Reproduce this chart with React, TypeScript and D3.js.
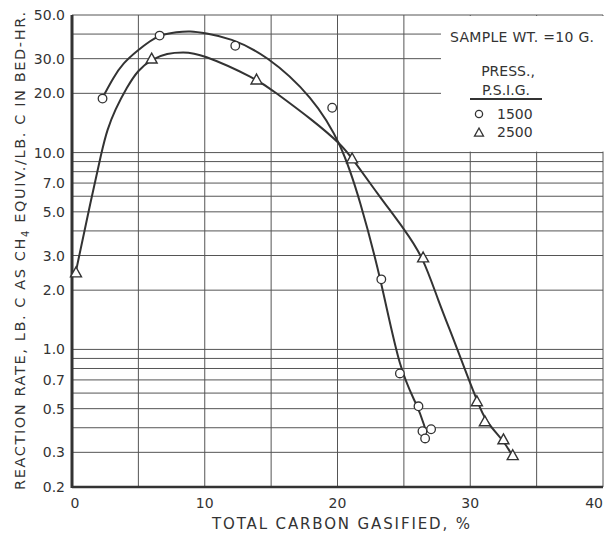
import * as d3 from 'd3';
import React from 'react';

// values
const xGridValues = [0, 5, 10, 15, 20, 25, 30, 35, 40];
const xTickLabels = [0, 10, 20, 30, 40];
const yGridValues = [50, 40, 30, 20, 10, 9, 8, 7, 6, 5, 4, 3, 2, 1, 0.9, 0.8, 0.7, 0.6, 0.5, 0.4, 0.3, 0.2];
const yTickLabels = [50, 30, 20, 10, 7, 5, 3, 2, 1, 0.7, 0.5, 0.3, 0.2];

// measured points, 1500 psig (circles)
const pts1500: [number, number][] = [
  [2.3, 18.8], [6.6, 39.3], [12.3, 34.9], [19.6, 16.9], [23.3, 2.27],
  [24.7, 0.755], [26.1, 0.514], [26.4, 0.384], [27.05, 0.393], [26.6, 0.353],
];
// measured points, 2500 psig (triangles)
const pts2500: [number, number][] = [
  [0.3, 2.46], [6.0, 30.0], [13.9, 23.5], [21.1, 9.33], [26.45, 2.93],
  [30.5, 0.545], [31.1, 0.431], [32.5, 0.349], [33.2, 0.29],
];

// hand-drawn smooth curves
const curve1500: [number, number][] = [
  [2.41, 19.6], [3.09, 23.9], [3.84, 28.5], [4.97, 33.2], [5.88, 36.9], [6.63, 39.6],
  [7.91, 41.0], [8.89, 41.5], [10.02, 40.5], [11.9, 38.2], [14.6, 31.5],
  [18.15, 19.2], [20.34, 10.9], [21.69, 5.74], [23.28, 2.28], [24.71, 0.759],
  [26.06, 0.516], [26.59, 0.399],
];
const curve2500: [number, number][] = [
  [0.3, 2.5], [1.43, 5.74], [2.26, 10.3], [2.64, 13.0], [3.24, 16.5], [4.14, 21.5],
  [4.97, 26.3], [6.03, 29.9], [7.16, 32.0], [8.36, 32.4], [9.64, 32.0], [13.94, 23.6],
  [15.07, 20.8], [18.15, 14.6], [20.34, 10.9], [21.09, 9.38], [23.2, 5.94],
  [25.08, 4.04], [26.44, 2.95], [27.57, 1.78], [28.85, 1.08], [29.98, 0.675],
  [30.51, 0.553], [31.11, 0.433], [32.47, 0.347], [33.14, 0.291],
];

const width = 604;
const height = 534;
const ink = '#333';
const font = "'DejaVu Sans', sans-serif";

export default function App() {
  const x = d3.scaleLinear().domain([0, 40]).range([72, 603]);
  const y = d3.scaleLog().domain([0.2, 50]).range([487, 15]);

  const line = d3.line<[number, number]>()
    .x(d => x(d[0]))
    .y(d => y(d[1]))
    .curve(d3.curveBasis);

  const tri = (cx: number, cy: number, s = 5.5) =>
    `M${cx},${cy - s} L${cx + s},${cy + s * 0.8} L${cx - s},${cy + s * 0.8} Z`;

  return (
    <svg width={width} height={height} style={{ position: 'absolute', top: 0, left: 0, background: '#fff' }}
      fontFamily={font} fill={ink}>
      {/* grid */}
      <g stroke="#555" strokeWidth={1}>
        {xGridValues.map(v => (
          <line key={'xg' + v} x1={x(v)} x2={x(v)} y1={y(50)} y2={y(0.2)} />
        ))}
        {yGridValues.map(v => (
          <line key={'yg' + v} x1={x(0)} x2={x(40)} y1={y(v)} y2={y(v)} />
        ))}
      </g>

      {/* legend box hides the grid behind it */}
      <rect x={441} y={y(50) + 1} width={163} height={y(10) - y(50) - 2} fill="#fff" />

      {/* heavy axes */}
      <line x1={x(0)} x2={x(0)} y1={y(50)} y2={y(0.2) + 1} stroke={ink} strokeWidth={3} />
      <line x1={x(0)} x2={x(40)} y1={y(0.2)} y2={y(0.2)} stroke={ink} strokeWidth={2.5} />

      {/* curves */}
      <path d={line(curve1500) ?? ''} fill="none" stroke={ink} strokeWidth={2} />
      <path d={line(curve2500) ?? ''} fill="none" stroke={ink} strokeWidth={2} />

      {/* markers */}
      {pts1500.map((d, i) => (
        <circle key={'c' + i} cx={x(d[0])} cy={y(d[1])} r={4.3} fill="#fff" stroke={ink} strokeWidth={1.3} />
      ))}
      {pts2500.map((d, i) => (
        <path key={'t' + i} d={tri(x(d[0]), y(d[1]))} fill="#fff" stroke={ink} strokeWidth={1.4} />
      ))}

      {/* y tick labels */}
      {yTickLabels.map(v => (
        <text key={'yl' + v} x={65} y={y(v) + 5} fontSize={14} textAnchor="end">{d3.format('.1f')(v)}</text>
      ))}
      {/* x tick labels */}
      {xTickLabels.map(v => (
        <text key={'xl' + v} x={v === 40 ? 603 : x(v) + (v === 0 ? 3 : 0)} y={508} fontSize={14}
          textAnchor={v === 40 ? 'end' : 'middle'}>{v}</text>
      ))}

      {/* axis titles */}
      <text x={341} y={529} fontSize={15} textAnchor="middle" textLength={258} lengthAdjust="spacing">
        TOTAL CARBON GASIFIED, %
      </text>
      <text transform="translate(25,251) rotate(-90)" fontSize={14.5} textAnchor="middle"
        textLength={478} lengthAdjust="spacing">
        REACTION RATE, LB. C AS CH<tspan fontSize={10} dy={4}>4</tspan><tspan dy={-4}> EQUIV./LB. C IN BED-HR.</tspan>
      </text>

      {/* legend */}
      <g fontSize={14}>
        <text x={450} y={42} textLength={144} lengthAdjust="spacing">SAMPLE WT. =10 G.</text>
        <text x={508} y={76} textAnchor="middle">PRESS.,</text>
        <text x={506} y={95} textAnchor="middle">P.S.I.G.</text>
        <line x1={470} x2={542} y1={99} y2={99} stroke={ink} strokeWidth={2} />
        <circle cx={479} cy={114} r={3.6} fill="none" stroke={ink} strokeWidth={1.3} />
        <text x={497} y={119}>1500</text>
        <path d={tri(479, 132.5, 4.5)} fill="none" stroke={ink} strokeWidth={1.3} />
        <text x={497} y={137}>2500</text>
      </g>
    </svg>
  );
}
